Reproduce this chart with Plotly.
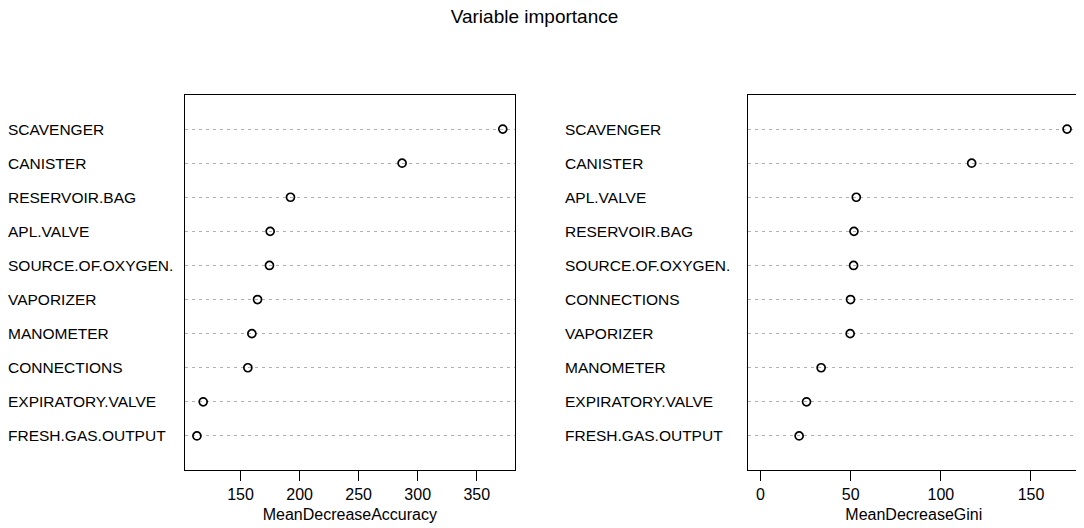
import plotly.graph_objects as go

# values, listed top to bottom
acc_vars = ["SCAVENGER", "CANISTER", "RESERVOIR.BAG", "APL.VALVE", "SOURCE.OF.OXYGEN.",
            "VAPORIZER", "MANOMETER", "CONNECTIONS", "EXPIRATORY.VALVE", "FRESH.GAS.OUTPUT"]
acc_vals = [372.0, 286.8, 192.3, 175.1, 174.5, 164.4, 159.6, 156.2, 118.4, 113.1]

gini_vars = ["SCAVENGER", "CANISTER", "APL.VALVE", "RESERVOIR.BAG", "SOURCE.OF.OXYGEN.",
             "CONNECTIONS", "VAPORIZER", "MANOMETER", "EXPIRATORY.VALVE", "FRESH.GAS.OUTPUT"]
gini_vals = [170.0, 117.1, 53.1, 51.8, 51.6, 49.9, 49.7, 33.6, 25.5, 21.4]

acc_ticks = [150, 200, 250, 300, 350]
gini_ticks = [0, 50, 100, 150]

FONT = "Liberation Sans, Arial, sans-serif"
# page body has an 8px margin, so the figure starts 8px in from the window corner
OFF = 8
W, H = 1084 - OFF, 528 - OFF


def px(x):
    return (x - OFF) / W


def py(y):
    return (H - (y - OFF)) / H


fig = go.Figure()


def add_panel(vars_, vals, xname, yname, title, ticks, xdom, label_x, xlo):
    cats = list(reversed(vars_))
    fig.add_trace(go.Scatter(
        x=list(reversed(vals)), y=cats, xaxis=xname, yaxis=yname,
        mode="markers", showlegend=False,
        marker=dict(symbol="circle-open", size=8, color="black", line=dict(width=1.7)),
    ))
    lo = xlo if xlo is not None else min(vals)
    hi = max(vals)
    pad = (hi - lo) * 0.04
    xkey = "xaxis" if xname == "x" else "xaxis" + xname[1:]
    ykey = "yaxis" if yname == "y" else "yaxis" + yname[1:]
    fig.update_layout({
        xkey: dict(
            domain=xdom, anchor=yname, range=[lo - pad, hi + pad],
            tickvals=ticks, ticks="outside", ticklen=10, tickcolor="black", tickwidth=1,
            showline=True, mirror=True, linecolor="black", linewidth=1,
            showgrid=False, zeroline=False,
            tickfont=dict(family=FONT, size=16, color="black"),
            title=dict(text=title, font=dict(family=FONT, size=16, color="black"), standoff=6),
        ),
        ykey: dict(
            domain=[py(470), py(95)], anchor=xname,
            type="category", categoryarray=cats, range=[-1, len(cats)],
            showticklabels=False, ticks="",
            showline=True, mirror=True, linecolor="black", linewidth=1,
            showgrid=True, gridcolor="#b0b0b0", gridwidth=1, griddash="3px,4px",
            zeroline=False,
        ),
    })
    for v in cats:
        fig.add_annotation(
            x=label_x, xref="paper", y=v, yref=yname, text=v, showarrow=False,
            xanchor="left", yanchor="middle", xshift=-2,
            font=dict(family=FONT, size=15.5, color="black"),
        )


add_panel(acc_vars, acc_vals, "x", "y", "MeanDecreaseAccuracy", acc_ticks,
          [px(184.7), px(515)], px(OFF), None)
add_panel(gini_vars, gini_vals, "x2", "y2", "MeanDecreaseGini", gini_ticks,
          [px(748.3), px(1079.3)], px(565), 0)

fig.update_layout(
    width=W, height=H,
    margin=dict(l=0, r=0, t=0, b=0),
    paper_bgcolor="white", plot_bgcolor="white",
    title=dict(text="Variable importance", x=px(534.5), xanchor="center", y=py(10), yanchor="top",
               pad=dict(t=0), font=dict(family=FONT, size=19, color="black")),
)

fig.write_html("out.html")
